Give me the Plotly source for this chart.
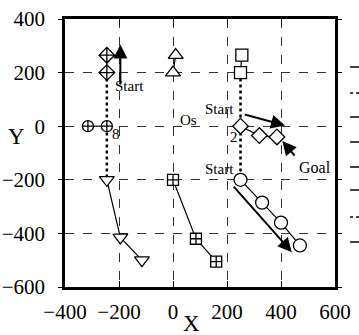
import plotly.graph_objects as go

# ---- data ----
diam_x_x = [-245, -245]; diam_x_y = [265, 200]
circ_x_x = [-315, -245]; circ_x_y = [0, 0]
tri_dn_x = [-245, -195, -115]; tri_dn_y = [-200, -415, -500]
tri_up_x = [10, 0]; tri_up_y = [265, 200]
sq_x_x = [0, 85, 160]; sq_x_y = [-200, -420, -505]
sq_x = [255, 250]; sq_y = [265, 200]
diam_x = [250, 320, 385]; diam_y = [0, -35, -40]
circ_x = [250, 330, 400, 470]; circ_y = [-200, -285, -360, -445]
dot_left_x = [-245, -245]; dot_left_y = [200, -200]
dot_right_x = [250, 250]; dot_right_y = [200, -200]
x_ticks = [-400, -200, 0, 200, 400, 600]
y_ticks = [-600, -400, -200, 0, 200, 400]

SERIF = "Liberation Serif"
fig = go.Figure()

def line(x, y, dash="solid", w=1.2):
    fig.add_trace(go.Scatter(x=x, y=y, mode="lines",
                             line=dict(color="black", width=w, dash=dash),
                             showlegend=False, hoverinfo="skip"))

def mk(x, y, sym, size=11):
    fig.add_trace(go.Scatter(x=x, y=y, mode="lines+markers",
                             line=dict(color="black", width=1.2),
                             marker=dict(symbol=sym, size=size, color="white",
                                         line=dict(color="black", width=1.3)),
                             showlegend=False))

line(dot_left_x, dot_left_y, "dot", 2.5)
line(dot_right_x, dot_right_y, "dot", 2.5)
mk(diam_x_x, diam_x_y, "diamond-cross", 12)
mk(circ_x_x, circ_x_y, "circle-cross", 11)
mk(tri_dn_x, tri_dn_y, "triangle-down", 13)
mk(tri_up_x, tri_up_y, "triangle-up", 13)
mk(sq_x_x, sq_x_y, "square-cross", 11)
mk(sq_x, sq_y, "square", 12)
mk(diam_x, diam_y, "diamond", 12)
mk(circ_x, circ_y, "circle", 13)

arrows = [
    (-195, 150, -195, 305),
    (260, 45, 415, 3),
    (220, -220, 440, -470),
    (455, -115, 405, -55),
]
for ax_, ay_, x_, y_ in arrows:
    fig.add_annotation(x=x_, y=y_, ax=ax_, ay=ay_, xref="x", yref="y",
                       axref="x", ayref="y", showarrow=True, arrowhead=2,
                       arrowsize=1.4, arrowwidth=2, arrowcolor="black", text="")

texts = [
    ("Start", -160, 150, 15),
    ("Start", 172, 66, 15),
    ("Start", 172, -160, 15),
    ("Goal", 525, -154, 16),
    ("Os", 58, 22, 15),
    ("8", -210, -30, 15),
    ("2", 225, -40, 15),
]
for t, x_, y_, s in texts:
    fig.add_annotation(x=x_, y=y_, xref="x", yref="y", text=t, showarrow=False,
                       font=dict(family=SERIF, size=s, color="black"))

# axis titles
fig.add_annotation(x=-0.178, y=0.56, xref="paper", yref="paper", text="Y",
                   xanchor="center", yanchor="middle",
                   showarrow=False, font=dict(family=SERIF, size=23, color="black"))
fig.add_annotation(x=0.467, y=-0.138, xref="paper", yref="paper", text="X",
                   xanchor="center", yanchor="middle",
                   showarrow=False, font=dict(family=SERIF, size=23, color="black"))

# partial legend fragments on the right edge
for py, dsh in [(67, "solid"), (93, "dot"), (117, "solid"), (142, "solid"),
                (167, "solid"), (190, "solid"), (217, "dot"), (242, "solid")]:
    yy = (287 - py) / 268
    fig.add_shape(type="line", xref="paper", yref="paper",
                  x0=1.056, x1=1.095, y0=yy, y1=yy,
                  line=dict(color="black", width=1.5, dash=dsh))

axis_common = dict(showline=True, linecolor="black", linewidth=2.5, mirror="ticks",
                   showgrid=True, gridcolor="#333333", gridwidth=1, griddash="dash",
                   zeroline=False, ticks="inside", ticklen=6, tickcolor="black",
                   automargin=False,
                   tickfont=dict(family=SERIF, size=21, color="black"))
fig.update_xaxes(range=[-400, 600], tickvals=x_ticks, ticklabelstandoff=4, **axis_common)
fig.update_yaxes(range=[-600, 400], tickvals=y_ticks, ticklabelstandoff=9, **axis_common)
fig.update_yaxes(ticks="outside", ticklen=4)

fig.update_layout(width=359, height=335, margin=dict(l=65, r=24, t=19, b=48),
                  plot_bgcolor="white", paper_bgcolor="white", showlegend=False)
fig.write_html("out.html", config={"displayModeBar": False},
               post_script="document.body.style.margin='0px';document.body.style.overflow='hidden';")
